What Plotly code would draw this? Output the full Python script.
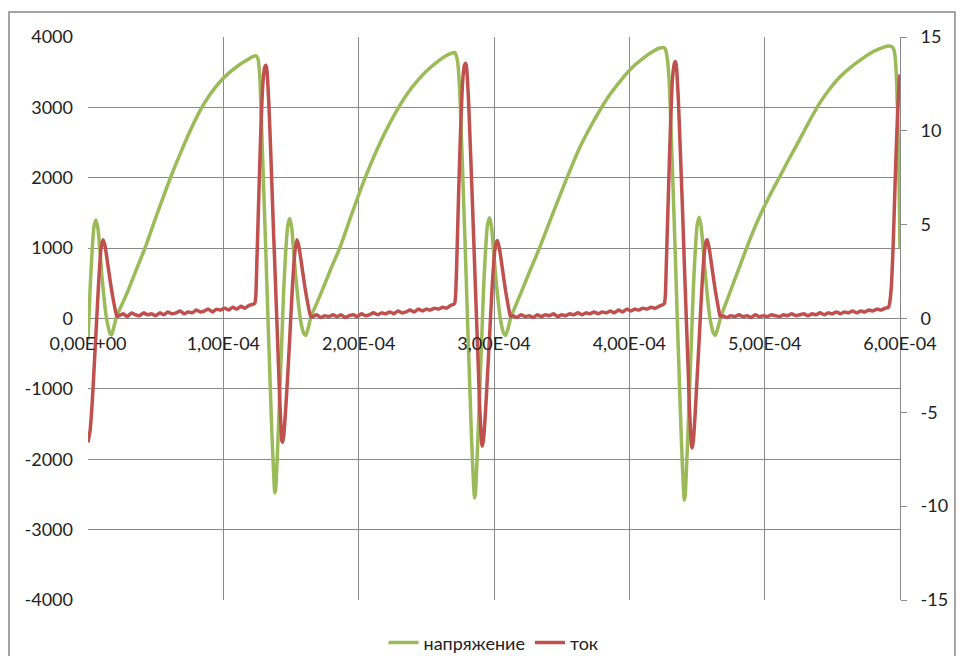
import plotly.graph_objects as go

# time in microseconds (axis labelled in seconds)
volt_t = [
    0.0, 1.5, 3.0, 4.4, 5.9, 7.4, 8.9, 10.3, 11.8, 13.3, 14.8, 16.2, 17.3, 18.5, 19.9, 21.4,
    28.8, 36.2, 42.1, 50.9, 60.5, 69.4, 76.8, 82.7, 90.0, 97.4, 104.8, 112.2, 118.1, 121.8, 124.0,
    125.5, 126.9, 128.4, 129.9, 131.4, 132.8, 134.3, 135.8, 137.3, 138.0, 138.7, 140.2, 141.7,
    143.2, 144.6, 146.1, 147.6, 149.1, 150.6, 152.0, 153.5, 155.0, 156.5, 157.9, 159.4, 160.9,
    162.4, 163.8, 165.3,
    172.0, 179.3, 186.0, 194.8, 204.4, 214.0, 222.1, 228.0, 236.2, 243.5, 250.9, 258.3, 264.2,
    268.7, 270.9,
    271.6, 273.1, 274.5, 276.0, 277.5, 279.0, 280.4, 281.9, 283.4, 284.9, 285.6, 286.3, 287.8,
    289.3, 290.8, 292.2, 293.7, 295.2, 296.7, 298.2, 299.6, 301.1, 302.6, 304.1, 305.5, 307.0,
    308.5, 310.0, 311.4, 312.9,
    319.6, 327.0, 333.6, 343.2, 353.5, 363.1, 372.0, 378.6, 386.7, 394.8, 402.9, 410.3, 416.2,
    422.1, 425.1,
    426.6, 428.0, 429.5, 431.0, 432.5, 434.0, 435.4, 436.9, 438.4, 439.9, 440.6, 441.3, 442.8,
    444.3, 445.8, 447.2, 448.7, 450.2, 451.7, 453.1, 454.6, 456.1, 457.6, 459.0, 460.5, 462.0,
    463.5, 464.9, 466.4, 467.9,
    474.5, 481.9, 488.6, 495.9, 503.3, 510.7, 518.1, 525.5, 532.9, 540.3, 547.6, 555.0, 562.4,
    569.8, 577.2, 584.6, 590.4, 594.1, 595.5, 596.5, 597.5, 598.5, 599.3, 600.0,
]
volt_v = [
    -300, 400, 950, 1300, 1400, 1270, 950, 600, 300, 50, -110, -210, -235, -170, -60, 40,
    360, 720, 1000, 1480, 1980, 2400, 2720, 2950, 3180, 3360, 3500, 3610, 3680, 3720, 3735,
    3700, 3450, 2650, 1800, 950, 100, -750, -1600, -2250, -2480, -2420, -1800, -1050,
    -300, 400, 950, 1320, 1420, 1280, 950, 600, 300, 50, -110, -210, -240,
    -160, -50, 50,
    350, 700, 1000, 1480, 1980, 2420, 2740, 2950, 3200, 3380, 3530, 3650, 3730,
    3770, 3780,
    3760, 3650, 3300, 2550, 1700, 850, 0, -850, -1700, -2350, -2550, -2480, -1850,
    -1100, -350, 380, 950, 1330, 1430, 1300, 980, 640, 330, 80, -90, -200,
    -240, -170, -60, 40,
    350, 700, 1000, 1480, 1980, 2420, 2750, 2970, 3210, 3410, 3580, 3700, 3780,
    3840, 3850,
    3830, 3700, 3350, 2600, 1750, 880, 20, -850, -1700, -2380, -2580, -2500, -1870,
    -1100, -350, 380, 960, 1340, 1440, 1300, 980, 640, 330, 80, -90, -200,
    -240, -170, -60, 40,
    380, 760, 1100, 1435, 1730, 2000, 2270, 2530, 2800, 3050, 3250, 3420, 3550,
    3660, 3760, 3830, 3870, 3860, 3820, 3700, 3350, 2700, 1900, 1000,
]

curr_t = [
    0.0, 1.5, 3.0, 4.4, 5.9, 6.6, 8.1, 9.6, 11.1, 12.5, 14.8, 17.0, 19.2, 21.4,
    23, 26, 29, 32, 35, 38, 41, 44, 47, 50, 53, 56, 59, 62, 65, 68, 71, 74, 77, 80, 83, 86,
    89, 92, 95, 98, 101, 104, 107, 110, 113, 116, 119, 121.5,
    123.2, 124.0, 124.7, 126.2, 127.7, 129.2, 130.6, 131.4, 132.1, 133.6, 135.1, 136.5, 138.0,
    139.5, 141.0, 141.7, 142.5, 143.2, 143.9, 144.7, 146.1, 147.6, 149.1, 149.8, 151.3, 152.8,
    154.3, 155.7, 158.0, 160.2, 162.4, 164.6,
    166, 169, 172, 175, 178, 181, 184, 187, 190, 193, 196, 199, 202, 205, 208, 211, 214, 217,
    220, 223, 226, 229, 232, 235, 238, 241, 244, 247, 250, 253, 256, 259, 262, 265, 268, 270,
    270.9, 271.6, 272.4, 273.8, 275.3, 276.8, 278.2, 279.0, 279.7, 281.2, 282.7, 284.2, 285.6,
    287.1, 288.6, 289.3, 290.1, 290.8, 291.5, 292.3, 293.7, 295.2, 296.7, 297.4, 298.9, 300.4,
    301.9, 302.6, 304.1, 306.3, 308.5, 310.7, 312.2,
    314, 317, 320, 323, 326, 329, 332, 335, 338, 341, 344, 347, 350, 353, 356, 359, 362, 365,
    368, 371, 374, 377, 380, 383, 386, 389, 392, 395, 398, 401, 404, 407, 410, 413, 416, 419,
    422, 425,
    425.9, 426.6, 427.3, 428.8, 430.3, 431.8, 433.3, 434.0, 434.7, 436.2, 437.7, 439.2, 440.6,
    442.1, 443.6, 444.3, 445.1, 445.8, 446.5, 447.3, 448.7, 450.2, 451.7, 452.4, 453.9, 455.4,
    456.9, 457.6, 459.1, 461.3, 463.5, 465.7, 467.2,
    469, 472, 475, 478, 481, 484, 487, 490, 493, 496, 499, 502, 505, 508, 511, 514, 517, 520,
    523, 526, 529, 532, 535, 538, 541, 544, 547, 550, 553, 556, 559, 562, 565, 568, 571, 574,
    577, 580, 583, 586, 589, 591.5,
    592.5, 593.5, 595.0, 596.5, 598.0, 599.3, 600.0,
]
curr_v = [
    -6.6, -6.0, -4.6, -2.8, -0.8, 0.2, 2.2, 3.7, 4.2, 3.9, 2.8, 1.7, 0.8, 0.1,
    0.15, 0.25, 0.1, 0.3, 0.2, 0.15, 0.3, 0.2, 0.25, 0.15, 0.3, 0.2, 0.35, 0.25, 0.3, 0.4, 0.25,
    0.35, 0.3, 0.45, 0.35, 0.4, 0.5, 0.35, 0.5, 0.45, 0.55, 0.45, 0.6, 0.5, 0.65, 0.55, 0.7, 0.75,
    0.8, 1.2, 2.8, 6.5, 10.0, 12.5, 13.4, 13.5, 13.3, 11.5, 8.7, 5.8, 2.9,
    0.0, -3.0, -4.4, -5.6, -6.5, -6.6, -6.2, -4.8, -3.0, -1.0, 0.0, 2.0, 3.5,
    4.2, 3.9, 2.8, 1.7, 0.8, 0.1,
    0.1, 0.2, 0.05, 0.15, 0.1, 0.2, 0.1, 0.2, 0.05, 0.15, 0.2, 0.1, 0.25, 0.15, 0.2, 0.3, 0.2, 0.3,
    0.25, 0.35, 0.25, 0.4, 0.3, 0.35, 0.45, 0.35, 0.5, 0.4, 0.5, 0.45, 0.55, 0.5, 0.6, 0.55, 0.7, 0.75,
    0.8, 1.2, 2.8, 6.5, 10.0, 12.6, 13.5, 13.6, 13.4, 11.6, 8.8, 5.9, 3.0,
    0.0, -3.0, -4.5, -5.7, -6.6, -6.8, -6.4, -5.0, -3.0, -1.0, 0.0, 2.0, 3.5,
    4.1, 4.15, 3.7, 2.6, 1.5, 0.6, 0.1,
    0.15, 0.05, 0.2, 0.1, 0.15, 0.05, 0.2, 0.1, 0.2, 0.15, 0.25, 0.1, 0.2, 0.15, 0.25, 0.2, 0.3, 0.2,
    0.3, 0.25, 0.35, 0.25, 0.35, 0.3, 0.4, 0.3, 0.45, 0.35, 0.5, 0.4, 0.5, 0.45, 0.55, 0.5, 0.6, 0.55,
    0.65, 0.75,
    0.8, 1.2, 2.8, 6.5, 10.0, 12.7, 13.6, 13.7, 13.5, 11.7, 8.9, 6.0, 3.0,
    0.0, -3.0, -4.6, -5.8, -6.7, -6.9, -6.5, -5.0, -3.0, -1.0, 0.0, 2.0, 3.5,
    4.15, 4.2, 3.7, 2.6, 1.5, 0.6, 0.1,
    0.15, 0.05, 0.15, 0.1, 0.2, 0.1, 0.15, 0.05, 0.2, 0.1, 0.15, 0.1, 0.2, 0.15, 0.1, 0.2, 0.15, 0.25,
    0.15, 0.2, 0.25, 0.15, 0.25, 0.2, 0.3, 0.2, 0.3, 0.25, 0.35, 0.25, 0.35, 0.3, 0.4, 0.3, 0.4, 0.35,
    0.45, 0.4, 0.5, 0.45, 0.55, 0.6,
    0.9, 1.6, 4.0, 7.5, 10.5, 12.5, 13.0,
]

x_tickvals = [0, 100, 200, 300, 400, 500, 600]
x_ticktext = ["0,00E+00", "1,00E-04", "2,00E-04", "3,00E-04", "4,00E-04", "5,00E-04", "6,00E-04"]
y1_ticks = [-4000, -3000, -2000, -1000, 0, 1000, 2000, 3000, 4000]
y1_text = ["-4000", "-3000", "-2000", "-1000", "0", "1000", "2000", "3000", "4000"]
y2_ticks = [-15, -10, -5, 0, 5, 10, 15]
y2_text = ["-15", "-10", "-5", "0", "5", "10", "15"]

GREEN = "#9BBB59"
RED = "#C0504D"
GRID = "#8a8a8a"
FONT = "Lato, 'Noto Sans', sans-serif"

fig = go.Figure()
fig.add_trace(go.Scatter(x=volt_t, y=volt_v, name="напряжение", mode="lines",
                         line=dict(color=GREEN, width=3.5, shape="spline", smoothing=0.5),
                         yaxis="y"))
fig.add_trace(go.Scatter(x=curr_t, y=curr_v, name="ток", mode="lines",
                         line=dict(color=RED, width=3.5, shape="spline", smoothing=0.5),
                         yaxis="y2"))

fig.update_layout(
    width=960, height=656,
    margin=dict(l=88, r=60, t=37, b=56, autoexpand=False),
    paper_bgcolor="white", plot_bgcolor="white",
    font=dict(family=FONT, size=18, color="#222222"),
    showlegend=True,
    legend=dict(orientation="h", x=0.5, xanchor="center", y=-0.076, yanchor="middle",
                font=dict(size=18, color="#222222"), bgcolor="rgba(0,0,0,0)"),
    xaxis=dict(range=[0, 600], tickvals=x_tickvals, ticktext=x_ticktext,
               showgrid=True, gridcolor=GRID, gridwidth=1, zeroline=False,
               showline=False, ticks="", anchor="free", position=0.5,
               ticklabelstandoff=12, automargin=False,
               tickfont=dict(size=18, color="#222222")),
    yaxis=dict(range=[-4000, 4000], tickvals=y1_ticks, ticktext=y1_text,
               showgrid=True, gridcolor=GRID,
               gridwidth=1, zeroline=False, showline=False, ticks="", automargin=False,
               ticklabelstandoff=14, tickfont=dict(size=18, color="#222222")),
    yaxis2=dict(range=[-15, 15], tickvals=y2_ticks, ticktext=y2_text,
                overlaying="y", side="right", automargin=False,
                showgrid=False, zeroline=False, showline=True, linecolor=GRID, linewidth=1,
                ticks="outside", ticklen=6, tickcolor=GRID, ticklabelstandoff=10,
                tickfont=dict(size=18, color="#222222")),
    shapes=[dict(type="rect", xref="paper", yref="paper", x0=-0.0973, x1=1.0677,
                 y0=-0.2, y1=1.0444, line=dict(color="#878787", width=1.5),
                 fillcolor="rgba(0,0,0,0)", layer="below")],
)

fig.write_html("out.html")
